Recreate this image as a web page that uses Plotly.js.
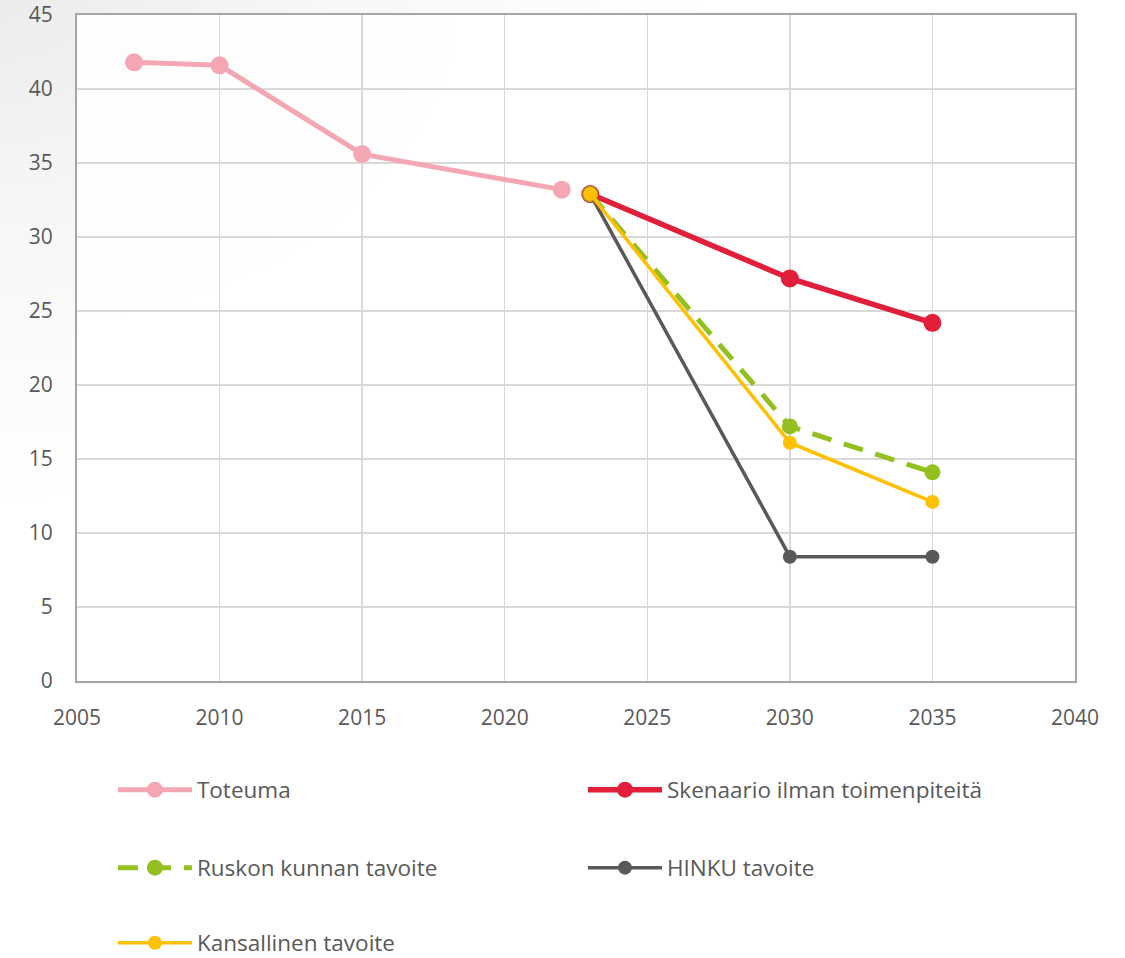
<!DOCTYPE html>
<html>
<head>
<meta charset="utf-8">
<script src="https://cdn.plot.ly/plotly-3.0.1.min.js"></script>
<style>
html,body{margin:0;padding:0;}
body{width:1125px;height:958px;background:radial-gradient(ellipse 700px 500px at 0px 0px,#ececec 0%,#f7f7f7 45%,#ffffff 100%);}
#chart{width:1125px;height:958px;}
</style>
</head>
<body>
<div id="chart"></div>
<script>
// Data
const yearsToteuma = [2007, 2010, 2015, 2022];
const valuesToteuma = [41.8, 41.6, 35.6, 33.2];

const yearsScenario = [2023, 2030, 2035];
const valuesSkenaario = [32.9, 27.2, 24.2];
const valuesRuskon = [32.9, 17.2, 14.1];
const valuesHinku = [32.9, 8.4, 8.4];
const valuesKansallinen = [32.9, 16.1, 12.1];

const seriesNames = ["Toteuma", "Skenaario ilman toimenpiteitä", "Ruskon kunnan tavoite", "HINKU tavoite", "Kansallinen tavoite"];
const xTicks = [2005, 2010, 2015, 2020, 2025, 2030, 2035, 2040];
const yTicks = [0, 5, 10, 15, 20, 25, 30, 35, 40, 45];

const traces = [
  {x: yearsToteuma, y: valuesToteuma, name: seriesNames[0], mode: 'lines+markers', legend: 'legend',
   line: {color: '#F4A7B2', width: 5}, marker: {color: '#F4A7B2', size: 18}},
  {x: yearsScenario, y: valuesSkenaario, name: seriesNames[1], mode: 'lines+markers', legend: 'legend2',
   line: {color: '#E21F3B', width: 5.5}, marker: {color: '#E21F3B', size: 18}},
  {x: yearsScenario, y: valuesRuskon, name: seriesNames[2], mode: 'lines+markers', legend: 'legend3',
   line: {color: '#93C01F', width: 5, dash: '20px,13px'}, marker: {color: '#93C01F', size: 16}},
  {x: yearsScenario, y: valuesHinku, name: seriesNames[3], mode: 'lines+markers', legend: 'legend4',
   line: {color: '#595959', width: 3.5}, marker: {color: '#595959', size: 14}},
  {x: yearsScenario, y: valuesKansallinen, name: seriesNames[4], mode: 'lines+markers', legend: 'legend5',
   line: {color: '#FFC000', width: 3.5}, marker: {color: '#FFC000', size: 14}}
];

const font = {family: '"Open Sans", "Noto Sans", sans-serif', color: '#595959'};
const legendBase = {
  orientation: 'h', xanchor: 'left', yanchor: 'middle', itemwidth: 74,
  bgcolor: 'rgba(0,0,0,0)', font: Object.assign({size: 22.5}, font)
};
const col1 = 0.036, col2 = 0.507;
const row1 = -0.1637, row2 = -0.2808, row3 = -0.3935;

const layout = {
  width: 1125, height: 958,
  margin: {l: 77, r: 50, t: 15, b: 277, autoexpand: false},
  paper_bgcolor: 'rgba(0,0,0,0)',
  plot_bgcolor: 'rgba(255,255,255,0.85)',
  font: font,
  showlegend: true,
  xaxis: {
    range: [2005, 2040], tickvals: xTicks, ticktext: xTicks.map(String),
    showgrid: true, gridcolor: '#d9d9d9', gridwidth: 1.5,
    showline: true, linecolor: '#a6a6a6', linewidth: 2, mirror: true,
    ticks: '', zeroline: false, ticklabelstandoff: 17, automargin: false,
    tickfont: Object.assign({size: 21}, font)
  },
  yaxis: {
    range: [0, 45], tickvals: yTicks, ticktext: yTicks.map(String),
    showgrid: true, gridcolor: '#d9d9d9', gridwidth: 1.5,
    showline: true, linecolor: '#a6a6a6', linewidth: 2, mirror: true,
    ticks: '', zeroline: false, ticklabelstandoff: 18, automargin: false,
    tickfont: Object.assign({size: 21}, font)
  },
  legend: Object.assign({}, legendBase, {x: col1, y: row1}),
  legend2: Object.assign({}, legendBase, {x: col2, y: row1}),
  legend3: Object.assign({}, legendBase, {x: col1, y: row2}),
  legend4: Object.assign({}, legendBase, {x: col2, y: row2}),
  legend5: Object.assign({}, legendBase, {x: col1, y: row3})
};

Plotly.newPlot('chart', traces, layout, {displayModeBar: false, staticPlot: true});
</script>
</body>
</html>
